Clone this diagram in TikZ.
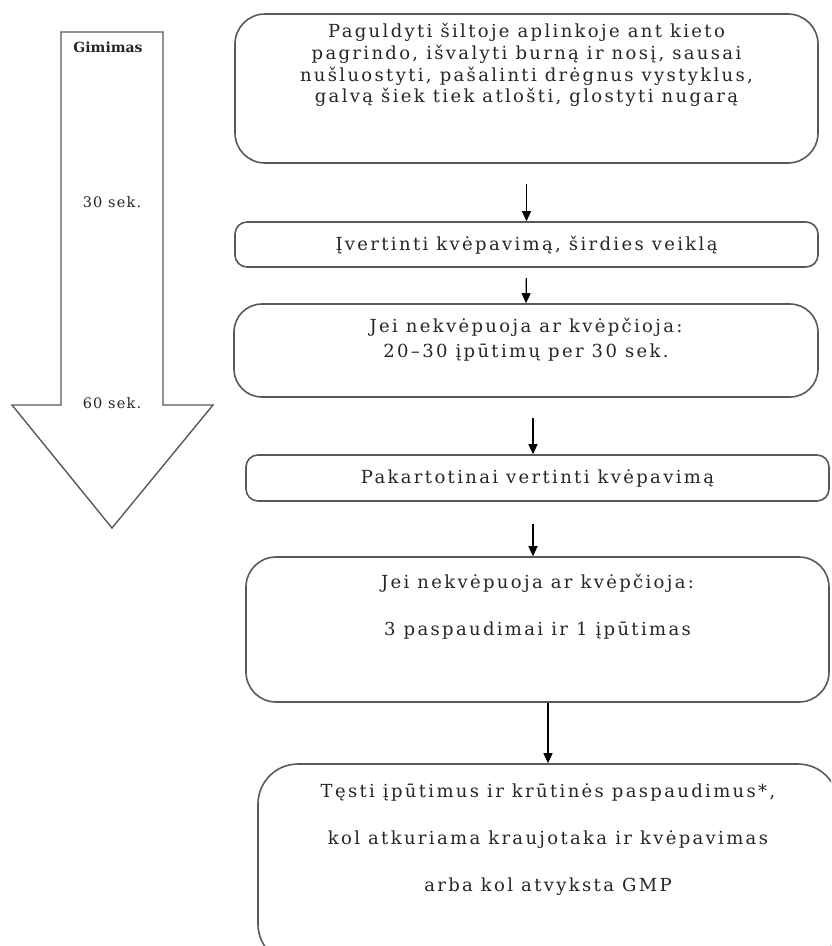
\documentclass[tikz,border=0pt]{standalone}
\usepackage{fontspec}
\setmainfont{DejaVu Serif}
\newfontfamily\boxfont{DejaVu Serif}[LetterSpace=13]
\newfontfamily\tagfont{DejaVu Serif}[LetterSpace=8]
\usetikzlibrary{arrows.meta}
\begin{document}
\begin{tikzpicture}[x=1pt,y=-1pt,
  box/.style={draw=black!65, line width=1.6pt, rounded corners=#1, inner sep=0pt},
  box/.default=12pt,
  txt/.style={font=\boxfont\fontsize{18}{21.7}\selectfont, align=center, inner sep=0pt, text=black!85},
  small/.style={font=\tagfont\fontsize{14.5}{16}\selectfont, inner sep=0pt, text=black!85},
  link/.style={-{Triangle[length=10pt,width=9pt]}, line width=1.2pt, black},
  bigarrow/.style={draw=black!65, line width=1.4pt, line join=miter},
]
\useasboundingbox (0,0) rectangle (831,946);
\clip (0,0) rectangle (831,946);

% timeline arrow
\draw[bigarrow] (61,32) -- (163,32) -- (163,405) -- (213,405) -- (112,528)
  -- (12,405) -- (61,405) -- cycle;
\node[small, font=\bfseries\fontsize{14}{16}\selectfont] (gim) at (108,47) {Gimimas};
\node[small] (s30) at (112,202) {30 sek.};
\node[small] (s60) at (112,403) {60 sek.};

% boxes
\node[box=30pt, minimum width=583pt, minimum height=149pt] (b1) at (526.5,88.5) {};
\node[box=12pt, minimum width=583pt, minimum height=45pt] (b2) at (526.5,244.5) {};
\node[box=28pt, minimum width=584pt, minimum height=93pt] (b3) at (526,350.5) {};
\node[box=12pt, minimum width=583pt, minimum height=46pt] (b4) at (537.5,478) {};
\node[box=30pt, minimum width=583pt, minimum height=145pt] (b5) at (537.5,629.5) {};
\node[box=40pt, minimum width=580pt, minimum height=200pt] (b6) at (548,864) {};

% texts
\node[txt] (t1) at (526.5,65) {Paguldyti šiltoje aplinkoje ant kieto\\pagrindo, išvalyti burną ir nosį, sausai\\nušluostyti, pašalinti drėgnus vystyklus,\\galvą šiek tiek atlošti, glostyti nugarą};
\node[txt] (t2) at (526.5,245) {Įvertinti kvėpavimą, širdies veiklą};
\node[txt, font=\boxfont\fontsize{18}{25}\selectfont] (t3) at (526,340) {Jei nekvėpuoja ar kvėpčioja:\\20–30 įpūtimų per 30 sek.};
\node[txt] (t4) at (537.5,478) {Pakartotinai vertinti kvėpavimą};
\node[txt, font=\boxfont\fontsize{18}{47}\selectfont] (t5) at (537.5,607) {Jei nekvėpuoja ar kvėpčioja:\\3 paspaudimai ir 1 įpūtimas};
\node[txt, font=\boxfont\fontsize{18}{47}\selectfont] (t6) at (548,840) {Tęsti įpūtimus ir krūtinės paspaudimus*,\\kol atkuriama kraujotaka ir kvėpavimas\\arba kol atvyksta GMP};

% connectors
\draw[link, shorten <=20pt] (b1.south) -- (b2.north);
\draw[link, shorten <=10pt] (b2.south) -- (b3.north);
\draw[link, shorten <=20pt] ([xshift=7pt]b3.south) -- ([xshift=-4.5pt]b4.north);
\draw[link, shorten <=22pt] ([xshift=-4.5pt]b4.south) -- ([xshift=-4.5pt]b5.north);
\draw[link] (b5.south -| b6.north) -- (b6.north);
\end{tikzpicture}
\end{document}
